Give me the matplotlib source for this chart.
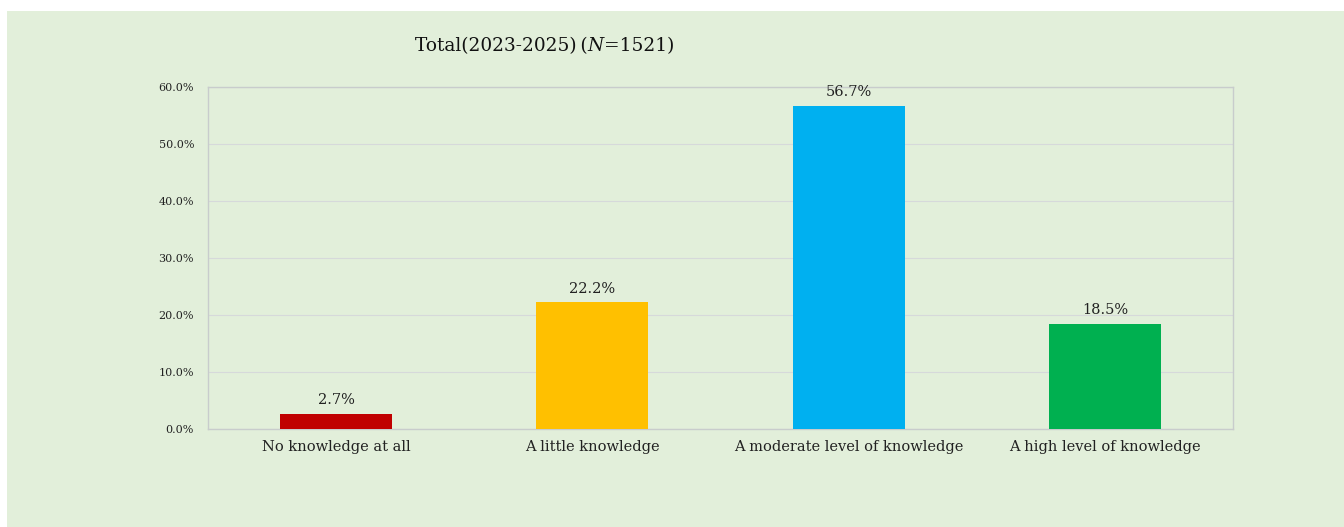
import matplotlib
matplotlib.use("Agg")
import matplotlib.pyplot as plt
from matplotlib.patches import Rectangle
from matplotlib.ticker import FuncFormatter

categories = ["No knowledge at all", "A little knowledge",
              "A moderate level of knowledge", "A high level of knowledge"]
values = [2.7, 22.2, 56.7, 18.5]
colors = ["#C00000", "#FFC000", "#00B0F0", "#00B050"]
yticks = [0, 10, 20, 30, 40, 50, 60]

plt.rcParams["font.family"] = ["DejaVu Serif"]

W, H = 1344, 527
fig = plt.figure(figsize=(W / 100, H / 100), dpi=100)
fig.patch.set_facecolor("white")
bg = "#E2EFDA"
fig.patches.append(Rectangle((7 / W, 0), 1 - 7 / W, 1 - 11 / H,
                             transform=fig.transFigure, facecolor=bg,
                             edgecolor="none", zorder=-10))

ax = fig.add_axes([208 / W, 1 - 429 / H, (1233 - 208) / W, (429 - 87) / H])
ax.set_facecolor(bg)
x = range(len(categories))
bars = ax.bar(x, values, width=0.4375, color=colors, zorder=3)
ax.set_xlim(-0.5, len(categories) - 0.5)
ax.set_ylim(0, 60)
ax.set_yticks(yticks)
ax.yaxis.set_major_formatter(FuncFormatter(lambda v, p: f"{v:.1f}%"))
ax.tick_params(axis="y", labelsize=8, length=0, pad=10, colors="#222222")
ax.set_xticks(list(x))
ax.set_xticklabels(categories, fontsize=10.5, color="#222222")
ax.tick_params(axis="x", length=0, pad=8)
ax.grid(axis="y", color="#D6D9DA", linewidth=0.8, zorder=0)
for s in ax.spines.values():
    s.set_color("#C8CCCC")
    s.set_linewidth(1.0)

for b, v in zip(bars, values):
    ax.annotate(f"{v:.1f}%", (b.get_x() + b.get_width() / 2, v),
                xytext=(0, 5), textcoords="offset points",
                ha="center", va="bottom", fontsize=10.5, color="#222222")

# Title with italic N, assembled from three pieces
ty = 1 - 46 / H
fs = 13.3
t1 = fig.text(415 / W, ty, "Total(2023-2025)\u2009(", fontsize=fs,
              ha="left", va="center", color="#111111")
fig.canvas.draw()
r = fig.canvas.get_renderer()
bb = t1.get_window_extent(r)
t2 = fig.text(bb.x1 / W, ty, "N", fontsize=fs, style="italic",
              ha="left", va="center", color="#111111")
bb2 = t2.get_window_extent(r)
fig.text(bb2.x1 / W, ty, "=1521)", fontsize=fs,
         ha="left", va="center", color="#111111")

fig.savefig("out.png", dpi=100, facecolor=fig.get_facecolor())
